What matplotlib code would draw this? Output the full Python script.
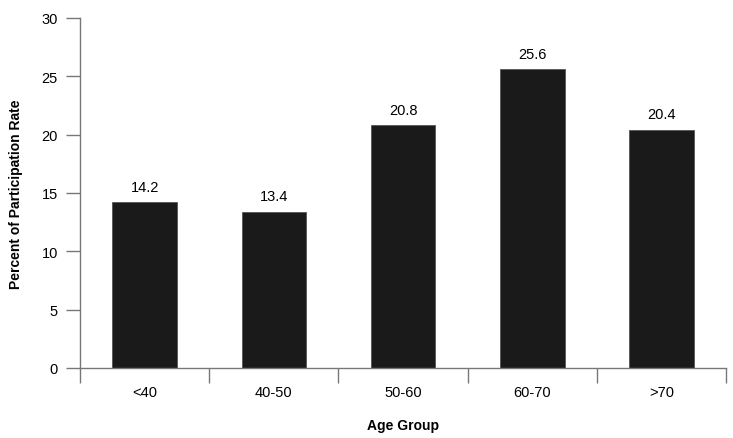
import matplotlib.pyplot as plt

groups = ['<40', '40-50', '50-60', '60-70', '>70']
rates = [14.2, 13.4, 20.8, 25.6, 20.4]
yticks = [0, 5, 10, 15, 20, 25, 30]

plt.rcParams['font.family'] = ['Liberation Sans', 'DejaVu Sans']

fig = plt.figure(figsize=(7.33, 4.39), dpi=100)
ax = fig.add_axes([80/733, 70/439, 646/733, 350/439])

x = range(len(groups))
bars = ax.bar(x, rates, width=0.5, color='#1a1a1a', edgecolor='#555555', linewidth=0.6)
for xi, v in zip(x, rates):
    ax.text(xi, v + 0.75, f'{v}', ha='center', va='bottom', fontsize=10.5)

ax.set_xlim(-0.5, len(groups) - 0.5)
ax.set_ylim(0, 30)
ax.set_yticks(yticks)
ax.tick_params(axis='y', length=10, width=1, color='#777777', labelsize=10.5, pad=6)

# category labels between boundary ticks
ax.set_xticks([i - 0.5 for i in range(len(groups) + 1)])
ax.set_xticklabels([])
ax.set_xticks(list(x), minor=True)
ax.set_xticklabels(groups, minor=True)
ax.tick_params(axis='x', which='major', length=11, width=1, color='#777777')
ax.tick_params(axis='x', which='minor', length=0, labelsize=10.5, pad=12)

for s in ['top', 'right']:
    ax.spines[s].set_visible(False)
for s in ['left', 'bottom']:
    ax.spines[s].set_color('#777777')
    ax.spines[s].set_linewidth(1)

ax.set_ylabel('Percent of Participation Rate', fontweight='bold', fontsize=10, labelpad=13)
ax.set_xlabel('Age Group', fontweight='bold', fontsize=10, labelpad=14)

fig.savefig('out.png', dpi=100)
